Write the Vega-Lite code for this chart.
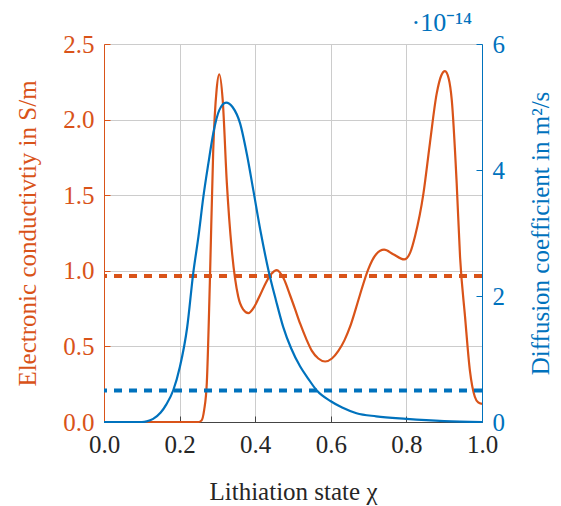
{
  "$schema": "https://vega.github.io/schema/vega-lite/v6.json",
  "width": 378,
  "height": 378,
  "autosize": {"type": "none"},
  "padding": {"left": 104, "top": 44, "right": 79, "bottom": 84},
  "background": "white",
  "config": {
    "font": "Liberation Serif",
    "view": {"stroke": null},
    "axis": {"labelFont": "Liberation Serif", "titleFont": "Liberation Serif", "labelFontSize": 25, "titleFontSize": 25, "titleFontWeight": "normal", "gridColor": "#cccccc", "gridWidth": 1, "tickSize": -6, "labelPadding": 16, "labelFlush": false}
  },
  "title": {"text": "·10⁻¹⁴", "anchor": "end", "frame": "group", "dx": -10, "offset": -4, "fontSize": 26, "fontWeight": "normal", "color": "#0072BD", "font": "Liberation Serif"},
  "datasets": {
    "sigma": [
      {"chi": 0, "sigma": 0}, {"chi": 0.25, "sigma": 0}, {"chi": 0.258, "sigma": 0.01}, {"chi": 0.265, "sigma": 0.08},
      {"chi": 0.272, "sigma": 0.26}, {"chi": 0.28, "sigma": 0.92}, {"chi": 0.289, "sigma": 1.8}, {"chi": 0.298, "sigma": 2.2},
      {"chi": 0.305, "sigma": 2.3}, {"chi": 0.314, "sigma": 2.13}, {"chi": 0.325, "sigma": 1.58}, {"chi": 0.338, "sigma": 1.14},
      {"chi": 0.355, "sigma": 0.83}, {"chi": 0.368, "sigma": 0.745}, {"chi": 0.382, "sigma": 0.72}, {"chi": 0.397, "sigma": 0.76},
      {"chi": 0.413, "sigma": 0.84}, {"chi": 0.428, "sigma": 0.92}, {"chi": 0.443, "sigma": 0.98}, {"chi": 0.457, "sigma": 1.005}, {"chi": 0.475, "sigma": 0.95},
      {"chi": 0.492, "sigma": 0.84}, {"chi": 0.505, "sigma": 0.75}, {"chi": 0.519, "sigma": 0.65}, {"chi": 0.535, "sigma": 0.55}, {"chi": 0.55, "sigma": 0.47},
      {"chi": 0.567, "sigma": 0.42}, {"chi": 0.585, "sigma": 0.4}, {"chi": 0.603, "sigma": 0.42},
      {"chi": 0.62, "sigma": 0.47}, {"chi": 0.636, "sigma": 0.54}, {"chi": 0.651, "sigma": 0.63}, {"chi": 0.665, "sigma": 0.74}, {"chi": 0.677, "sigma": 0.84}, {"chi": 0.699, "sigma": 1.01},
      {"chi": 0.72, "sigma": 1.11}, {"chi": 0.741, "sigma": 1.14}, {"chi": 0.765, "sigma": 1.11}, {"chi": 0.794, "sigma": 1.075},
      {"chi": 0.81, "sigma": 1.12}, {"chi": 0.823, "sigma": 1.23}, {"chi": 0.845, "sigma": 1.51}, {"chi": 0.862, "sigma": 1.84},
      {"chi": 0.88, "sigma": 2.17}, {"chi": 0.892, "sigma": 2.29}, {"chi": 0.902, "sigma": 2.32}, {"chi": 0.912, "sigma": 2.27},
      {"chi": 0.92, "sigma": 2.13}, {"chi": 0.933, "sigma": 1.58}, {"chi": 0.942, "sigma": 1.09}, {"chi": 0.955, "sigma": 0.7},
      {"chi": 0.968, "sigma": 0.34}, {"chi": 0.981, "sigma": 0.167}, {"chi": 0.99, "sigma": 0.13}, {"chi": 1.0, "sigma": 0.12}
    ],
    "diff": [
      {"chi": 0, "D": 0}, {"chi": 0.1, "D": 0}, {"chi": 0.113, "D": 0.01}, {"chi": 0.13, "D": 0.05}, {"chi": 0.15, "D": 0.15},
      {"chi": 0.165, "D": 0.28}, {"chi": 0.183, "D": 0.5}, {"chi": 0.201, "D": 0.88}, {"chi": 0.22, "D": 1.5},
      {"chi": 0.236, "D": 2.36}, {"chi": 0.25, "D": 2.95}, {"chi": 0.263, "D": 3.58}, {"chi": 0.276, "D": 4.1},
      {"chi": 0.289, "D": 4.58}, {"chi": 0.305, "D": 4.95}, {"chi": 0.323, "D": 5.07}, {"chi": 0.34, "D": 5.0},
      {"chi": 0.36, "D": 4.74}, {"chi": 0.378, "D": 4.25}, {"chi": 0.395, "D": 3.68}, {"chi": 0.415, "D": 3.0},
      {"chi": 0.435, "D": 2.41}, {"chi": 0.455, "D": 1.93}, {"chi": 0.474, "D": 1.51}, {"chi": 0.495, "D": 1.17},
      {"chi": 0.519, "D": 0.88}, {"chi": 0.54, "D": 0.69}, {"chi": 0.563, "D": 0.5}, {"chi": 0.6, "D": 0.33},
      {"chi": 0.63, "D": 0.23}, {"chi": 0.668, "D": 0.14}, {"chi": 0.72, "D": 0.09}, {"chi": 0.8, "D": 0.05},
      {"chi": 0.9, "D": 0.015}, {"chi": 1.0, "D": 0}
    ],
    "means": [
      {"series": "sigma", "mean": 0.966}, {"series": "D", "mean": 0.5}
    ]
  },
  "layer": [
    {
      "layer": [
        {
          "data": {"name": "sigma"},
          "mark": {"type": "line", "color": "#D95319", "strokeWidth": 2.2, "interpolate": "monotone"},
          "encoding": {
            "x": {"field": "chi", "type": "quantitative", "scale": {"domain": [0, 1], "nice": false},
              "axis": {"title": "Lithiation state χ", "values": [0, 0.2, 0.4, 0.6, 0.8, 1.0], "format": ".1f", "grid": true,
                "labelFont": "Liberation Serif", "titleFont": "Liberation Serif",
                "domainColor": "#444444", "tickColor": "#444444", "labelColor": "#262626", "titleColor": "#262626", "titlePadding": 22}},
            "y": {"field": "sigma", "type": "quantitative", "scale": {"domain": [0, 2.5], "nice": false},
              "axis": {"title": "Electronic conductivtiy in S/m", "values": [0, 0.5, 1, 1.5, 2, 2.5], "format": ".1f", "grid": true,
                "labelFont": "Liberation Serif", "titleFont": "Liberation Serif",
                "domainColor": "#D95319", "tickColor": "#D95319", "labelColor": "#D95319", "titleColor": "#D95319", "titlePadding": 22}}
          }
        },
        {
          "data": {"name": "means"},
          "transform": [{"filter": "datum.series === 'sigma'"}],
          "mark": {"type": "rule", "color": "#D95319", "strokeWidth": 4, "strokeDash": [8, 7]},
          "encoding": {"y": {"field": "mean", "type": "quantitative"}}
        }
      ]
    },
    {
      "layer": [
        {
          "data": {"name": "diff"},
          "mark": {"type": "line", "color": "#0072BD", "strokeWidth": 2.2, "interpolate": "monotone"},
          "encoding": {
            "x": {"field": "chi", "type": "quantitative"},
            "y": {"field": "D", "type": "quantitative", "scale": {"domain": [0, 6], "nice": false},
              "axis": {"orient": "right", "title": "Diffusion coefficient in m²/s", "values": [0, 2, 4, 6], "format": "d", "grid": false,
                "labelFont": "Liberation Serif", "titleFont": "Liberation Serif", "titleAngle": 270, "titleBaseline": "top",
                "domainColor": "#0072BD", "tickColor": "#0072BD", "labelColor": "#0072BD", "titleColor": "#0072BD", "titlePadding": 24}}
          }
        },
        {
          "data": {"name": "means"},
          "transform": [{"filter": "datum.series === 'D'"}],
          "mark": {"type": "rule", "color": "#0072BD", "strokeWidth": 4, "strokeDash": [8, 7]},
          "encoding": {"y": {"field": "mean", "type": "quantitative"}}
        }
      ]
    }
  ],
  "resolve": {"scale": {"y": "independent"}}
}
